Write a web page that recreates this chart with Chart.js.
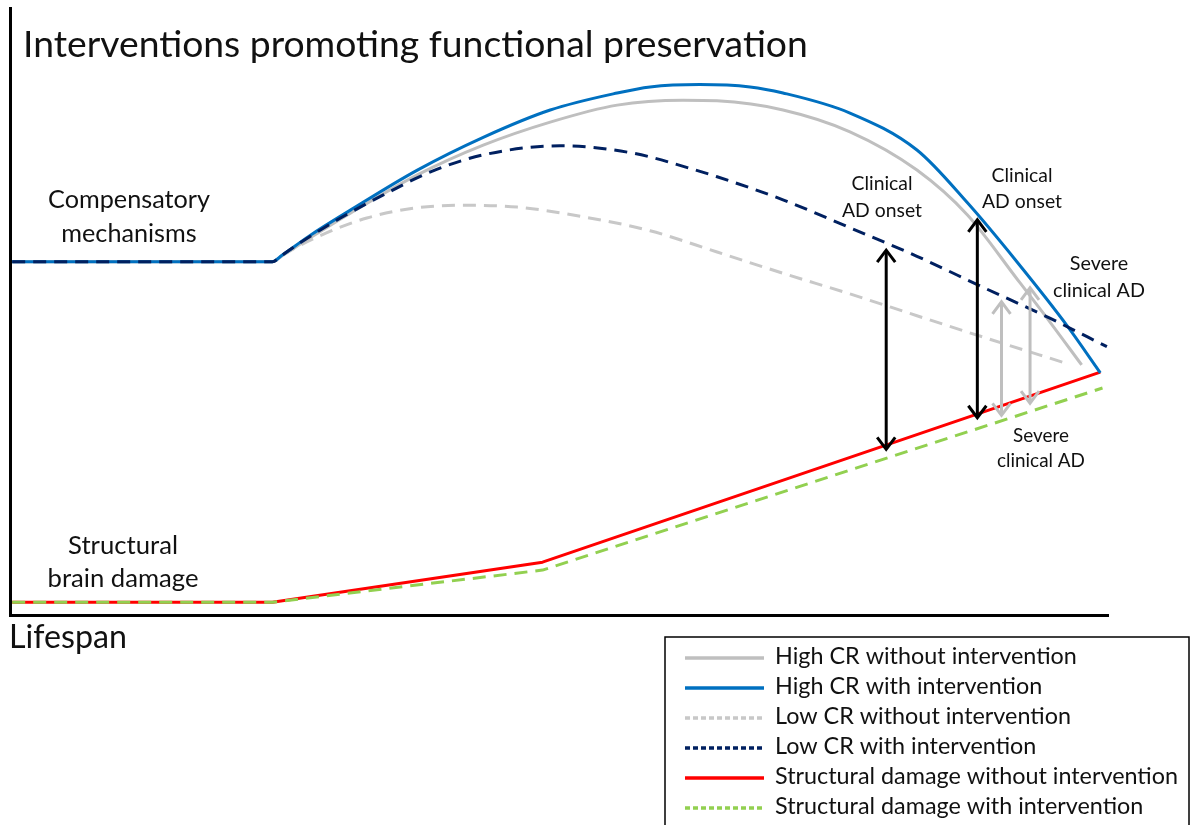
<!DOCTYPE html>
<html>
<head>
<meta charset="utf-8">
<script src="https://cdn.jsdelivr.net/npm/chart.js@4/dist/chart.umd.min.js"></script>
<style>
  html, body { margin: 0; padding: 0; background: #ffffff; }
  #wrap { width: 1192px; height: 825px; position: relative; }
  canvas { display: block; }
</style>
</head>
<body>
<div id="wrap"><canvas id="c" width="1192" height="825"></canvas></div>
<script>
// ---------------- DATA (lifespan 0-100, level 0-100) ----------------
const seriesLabels = [
  'High CR without intervention',
  'High CR with intervention',
  'Low CR without intervention',
  'Low CR with intervention',
  'Structural damage without intervention',
  'Structural damage with intervention'
];

const highCRWithoutX = [0.2, 23.9, 24.8, 27.3, 31.0, 37.1, 43.1, 49.2, 55.3, 61.3, 64.4, 70.4, 76.5, 82.6, 87.2, 91.7, 94.7, 97.6];
const highCRWithoutY = [58.2, 58.2, 59.2, 62.1, 66.2, 72.5, 77.4, 81.2, 84.0, 84.8, 84.7, 83.2, 79.6, 73.3, 65.9, 55.4, 48.3, 41.2];

const highCRWithX = [0.2, 23.9, 24.8, 27.3, 31.0, 37.1, 43.1, 49.2, 55.3, 58.3, 62.8, 67.4, 70.4, 76.5, 82.6, 87.2, 91.7, 96.3, 99.3];
const highCRWithY = [58.2, 58.2, 59.3, 62.5, 66.7, 73.3, 78.7, 83.2, 86.0, 87.0, 87.4, 87.0, 86.0, 82.7, 76.6, 67.9, 58.2, 47.6, 39.9];

const lowCRWithoutX = [0.2, 23.9, 24.8, 25.5, 28.0, 32.5, 37.1, 41.6, 46.2, 52.2, 58.3, 64.4, 70.4, 76.5, 82.6, 88.6, 96.3];
const lowCRWithoutY = [58.2, 58.2, 59.2, 60.0, 62.3, 65.4, 67.1, 67.5, 67.2, 65.6, 63.3, 59.8, 56.3, 52.9, 49.3, 45.8, 41.4];

const lowCRWithX = [0.2, 23.9, 24.8, 26.4, 30.1, 34.0, 38.3, 43.1, 50.1, 56.7, 61.9, 64.4, 70.4, 76.5, 82.6, 88.6, 94.7, 99.9];
const lowCRWithY = [58.2, 58.2, 59.3, 61.3, 65.4, 69.2, 73.0, 75.8, 77.3, 76.1, 73.6, 72.2, 68.4, 63.8, 59.1, 54.0, 48.9, 44.2];

const damageWithoutX = [0.2, 23.9, 48.5, 99.3];
const damageWithoutY = [2.1, 2.1, 8.7, 40.0];

const damageWithX = [0.2, 23.9, 48.5, 99.5];
const damageWithY = [2.1, 2.1, 7.4, 37.4];

// double-headed arrows: lifespan position, upper tip, lower tip
const arrowX      = [79.8, 88.1, 90.3, 92.9];
const arrowTop    = [60.1, 65.1, 51.6, 53.9];
const arrowBottom = [27.3, 32.5, 32.9, 34.9];

// ---------------- STYLE ----------------
const FONT = 'Lato, "Open Sans", "DejaVu Sans", sans-serif';
const TEXT_COLOR = '#111111';
const arrowColors = ['#000000', '#000000', '#bfbfbf', '#bfbfbf'];

const seriesStyle = [
  { color: '#bfbfbf', dash: [],      legendDash: [],     order: 3, smooth: true },
  { color: '#0070c0', dash: [],      legendDash: [],     order: 1, smooth: true },
  { color: '#c8c8c8', dash: [13, 8], legendDash: [5, 3], order: 4, smooth: true },
  { color: '#002060', dash: [13, 8], legendDash: [5, 3], order: 0, smooth: true },
  { color: '#ff0000', dash: [],      legendDash: [],     order: 1, smooth: false },
  { color: '#92d050', dash: [13, 8], legendDash: [5, 3], order: 0, smooth: false }
];

const seriesX = [highCRWithoutX, highCRWithX, lowCRWithoutX, lowCRWithX, damageWithoutX, damageWithX];
const seriesY = [highCRWithoutY, highCRWithY, lowCRWithoutY, lowCRWithY, damageWithoutY, damageWithY];

const datasets = seriesLabels.map((label, i) => ({
  label,
  data: seriesX[i].map((x, k) => ({ x, y: seriesY[i][k] })),
  borderColor: seriesStyle[i].color,
  backgroundColor: seriesStyle[i].color,
  borderDash: seriesStyle[i].dash,
  borderWidth: 3,
  pointRadius: 0,
  fill: false,
  order: seriesStyle[i].order,
  cubicInterpolationMode: seriesStyle[i].smooth ? 'monotone' : 'default',
  tension: 0,
  borderCapStyle: 'butt',
  borderJoinStyle: 'round'
}));

// text blocks (pixel layout)
const textBlocks = [
  { lines: ['Interventions promoting functional preservation'], x: 23, base: [57], width: 785, align: 'left' },
  { lines: ['Compensatory', 'mechanisms'], x: 129, base: [208, 242], width: 162, align: 'center' },
  { lines: ['Structural', 'brain damage'], x: 123, base: [554, 587], width: 151, align: 'center' },
  { lines: ['Lifespan'], x: 9, base: [648], width: 118, align: 'left' },
  { lines: ['Clinical', 'AD onset'], x: 882, base: [190, 217], width: 80, align: 'center' },
  { lines: ['Clinical', 'AD onset'], x: 1022, base: [182, 208], width: 80, align: 'center' },
  { lines: ['Severe', 'clinical AD'], x: 1099, base: [270, 297], width: 92, align: 'center' },
  { lines: ['Severe', 'clinical AD'], x: 1041, base: [442, 467], width: 88, align: 'center' }
];

const legendLayout = { left: 665, top: 637, right: 1189, bottom: 830,
  sampleX0: 685, sampleX1: 764, textX: 775, firstBase: 664, step: 30, textWidth: 403 };

function fitSize(ctx, lines, targetW) {
  ctx.font = '100px ' + FONT;
  const w = Math.max(...lines.map(t => ctx.measureText(t).width));
  return 100 * targetW / w;
}

function drawChevron(ctx, x, y, dir) {
  // dir = -1 pointing up, +1 pointing down
  const half = 9, len = 12;
  ctx.beginPath();
  ctx.moveTo(x - half, y - dir * len);
  ctx.lineTo(x, y);
  ctx.lineTo(x + half, y - dir * len);
  ctx.stroke();
}

const decorPlugin = {
  id: 'decor',
  afterDatasetsDraw(chart) {
    const ctx = chart.ctx;
    const xs = chart.scales.x, ys = chart.scales.y;
    ctx.save();
    ctx.lineCap = 'butt';
    ctx.lineJoin = 'miter';
    arrowX.forEach((ax, i) => {
      const px = xs.getPixelForValue(ax);
      const pt = ys.getPixelForValue(arrowTop[i]);
      const pb = ys.getPixelForValue(arrowBottom[i]);
      ctx.strokeStyle = arrowColors[i];
      ctx.lineWidth = 3;
      ctx.setLineDash([]);
      ctx.beginPath();
      ctx.moveTo(px, pt + 1);
      ctx.lineTo(px, pb - 1);
      ctx.stroke();
      drawChevron(ctx, px, pt, -1);
      drawChevron(ctx, px, pb, 1);
    });
    ctx.restore();
  },
  afterDraw(chart) {
    const ctx = chart.ctx;
    ctx.save();
    ctx.fillStyle = TEXT_COLOR;
    ctx.textBaseline = 'alphabetic';
    textBlocks.forEach(b => {
      const size = fitSize(ctx, b.lines, b.width);
      ctx.font = size.toFixed(2) + 'px ' + FONT;
      ctx.textAlign = b.align;
      b.lines.forEach((t, k) => ctx.fillText(t, b.x, b.base[k]));
    });

    // legend
    const L = legendLayout;
    ctx.strokeStyle = '#000';
    ctx.lineWidth = 1.5;
    ctx.setLineDash([]);
    ctx.strokeRect(L.left, L.top, L.right - L.left, L.bottom - L.top);
    const lsize = fitSize(ctx, [seriesLabels[4]], L.textWidth);
    chart.data.datasets.forEach((ds, i) => {
      const base = L.firstBase + i * L.step;
      const cy = base - 6;
      ctx.strokeStyle = ds.borderColor;
      ctx.lineWidth = 3.5;
      ctx.setLineDash(seriesStyle[i].legendDash);
      ctx.beginPath();
      ctx.moveTo(L.sampleX0, cy);
      ctx.lineTo(L.sampleX1, cy);
      ctx.stroke();
      ctx.setLineDash([]);
      ctx.font = lsize.toFixed(2) + 'px ' + FONT;
      ctx.textAlign = 'left';
      ctx.fillStyle = TEXT_COLOR;
      ctx.fillText(ds.label, L.textX, base);
    });
    ctx.restore();
  }
};

new Chart(document.getElementById('c').getContext('2d'), {
  type: 'line',
  data: { datasets },
  options: {
    responsive: false,
    animation: false,
    devicePixelRatio: 1,
    layout: { padding: { left: 10, top: 8, right: 84, bottom: 210 }, autoPadding: false },
    plugins: { legend: { display: false }, tooltip: { enabled: false }, title: { display: false } },
    scales: {
      x: { type: 'linear', min: 0, max: 100,
           grid: { display: false, drawTicks: false }, ticks: { display: false },
           border: { display: true, color: '#000', width: 3 } },
      y: { type: 'linear', min: 0, max: 100,
           grid: { display: false, drawTicks: false }, ticks: { display: false },
           border: { display: true, color: '#000', width: 3 } }
    }
  },
  plugins: [decorPlugin]
});
</script>
</body>
</html>
